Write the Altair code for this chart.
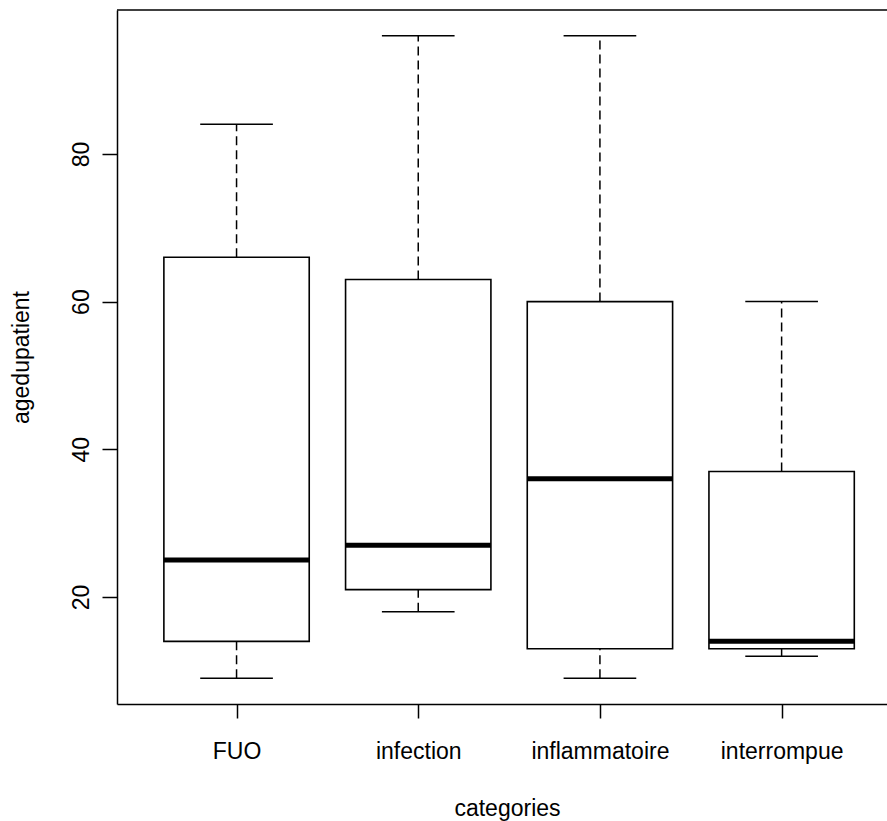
import json
import altair as alt
import pandas as pd

# ---- data ----
categories = ["FUO", "infection", "inflammatoire", "interrompue"]
whisker_low = [9, 18, 9, 12]
q1 = [14, 21, 13, 13]
median = [25, 27, 36, 14]
q3 = [66, 63, 60, 37]
whisker_high = [84, 96, 96, 60]

idx = list(range(1, len(categories) + 1))
df = pd.DataFrame({
    "cat": categories,
    "pos": idx,
    "box_l": [i - 0.4 for i in idx],
    "box_r": [i + 0.4 for i in idx],
    "cap_l": [i - 0.2 for i in idx],
    "cap_r": [i + 0.2 for i in idx],
    "lo": whisker_low,
    "q1": q1,
    "median": median,
    "q3": q3,
    "hi": whisker_high,
})

FONT = "Liberation Sans"
FS = 23
W, H = 770, 694

xscale = alt.Scale(domain=[0.342, 4.58], nice=False, zero=False)
yscale = alt.Scale(domain=[5.52, 99.48], nice=False, zero=False)

label_expr = json.dumps(categories) + "[datum.value - 1]"

xaxis = alt.Axis(
    values=idx, labelExpr=label_expr, title="categories",
    grid=False, tickSize=14, tickWidth=1.5, tickColor="black",
    domainColor="black", domainWidth=1.5,
    labelFont=FONT, labelFontSize=FS, labelColor="black",
    labelBaseline="alphabetic", labelPadding=40, labelAlign="center",
    titleFont=FONT, titleFontSize=FS, titleFontWeight="normal", titleColor="black",
    titleX=390, titleY=111, titleBaseline="alphabetic", titleAlign="center",
)
yaxis = alt.Axis(
    values=[20, 40, 60, 80], title="agedupatient",
    grid=False, tickSize=15, tickWidth=1.5, tickColor="black",
    domainColor="black", domainWidth=1.5,
    labelFont=FONT, labelFontSize=FS, labelColor="black",
    labelAngle=270, labelAlign="center", labelBaseline="alphabetic", labelPadding=14,
    titleFont=FONT, titleFontSize=FS, titleFontWeight="normal", titleColor="black",
    titleAngle=270, titleX=-89, titleY=347, titleBaseline="alphabetic", titleAlign="center",
)


def X(field):
    return alt.X(f"{field}:Q", scale=xscale, axis=xaxis)


def Y(field):
    return alt.Y(f"{field}:Q", scale=yscale, axis=yaxis)


base = alt.Chart(df)

upper_whisker = base.mark_rule(color="black", strokeWidth=1.5, strokeDash=[9, 5]).encode(
    x=X("pos"), y=Y("q3"), y2="hi:Q")
lower_whisker = base.mark_rule(color="black", strokeWidth=1.5, strokeDash=[9, 5]).encode(
    x=X("pos"), y=Y("lo"), y2="q1:Q")
box = base.mark_rect(fill="white", stroke="black", strokeWidth=1.6).encode(
    x=X("box_l"), x2="box_r:Q", y=Y("q1"), y2="q3:Q")
med = base.mark_rule(color="black", strokeWidth=5).encode(
    x=X("box_l"), x2="box_r:Q", y=Y("median"))
cap_hi = base.mark_rule(color="black", strokeWidth=1.5).encode(
    x=X("cap_l"), x2="cap_r:Q", y=Y("hi"))
cap_lo = base.mark_rule(color="black", strokeWidth=1.5).encode(
    x=X("cap_l"), x2="cap_r:Q", y=Y("lo"))
top_border = alt.Chart(pd.DataFrame({"a": [0]})).mark_rule(color="black", strokeWidth=1.5).encode(
    x=alt.value(0), x2=alt.value(W), y=alt.value(0))

chart = alt.layer(
    upper_whisker, lower_whisker, box, med, cap_hi, cap_lo, top_border
).properties(
    width=W, height=H,
    autosize=alt.AutoSizeParams(type="none"),
    padding={"left": 117, "top": 10, "right": 0, "bottom": 117},
    background="white",
).configure_view(stroke=None)

chart.save("out.html", embed_options={"renderer": "svg", "actions": False})
